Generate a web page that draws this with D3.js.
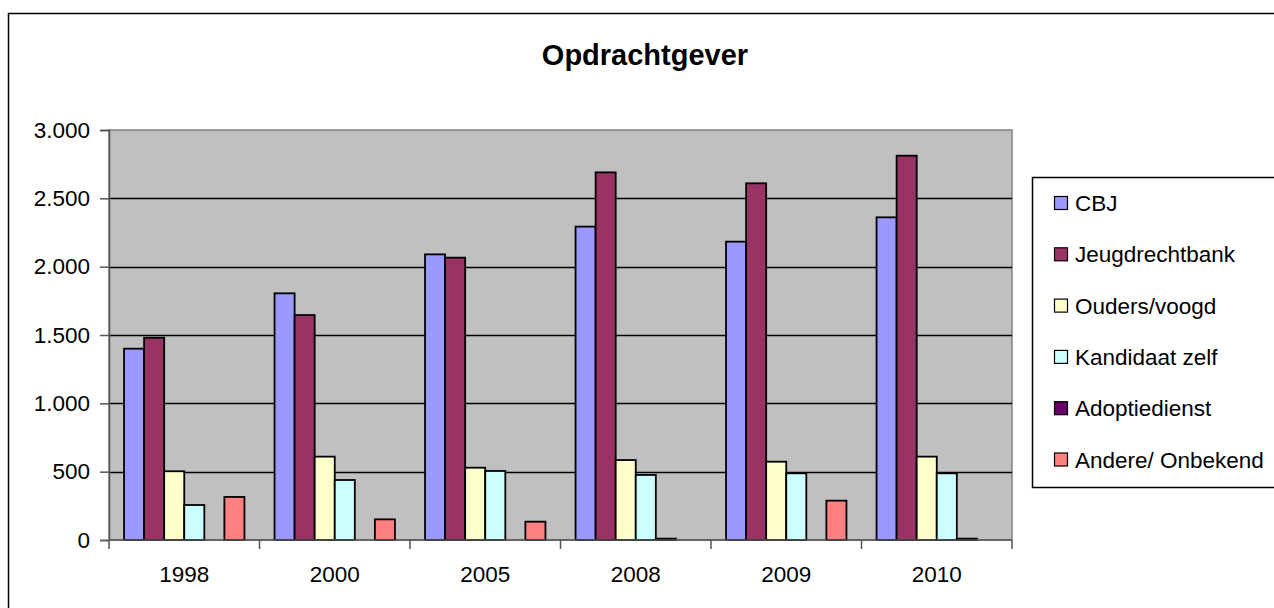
<!DOCTYPE html>
<html>
<head>
<meta charset="utf-8">
<script src="https://cdn.jsdelivr.net/npm/d3@7"></script>
<style>
  body { margin: 0; background: #fff; }
  text { font-family: "Liberation Sans", Arial, sans-serif; fill: #000; }
</style>
</head>
<body>
<div class="graph"></div>
<script>
// chart data
var years = ["1998", "2000", "2005", "2008", "2009", "2010"];
var series = ["CBJ", "Jeugdrechtbank", "Ouders/voogd", "Kandidaat zelf", "Adoptiedienst", "Andere/ Onbekend"];
var colors = ["#9999FF", "#993366", "#FFFFCC", "#CCFFFF", "#660066", "#FF8080"];
var cbj = [1400, 1805, 2090, 2293, 2183, 2361];
var jeugdrechtbank = [1480, 1646, 2066, 2690, 2610, 2812];
var ouders = [503, 610, 529, 585, 573, 610];
var kandidaat = [256, 439, 505, 476, 488, 488];
var adoptie = [0, 0, 0, 10, 0, 10];
var andere = [315, 151, 134, 0, 288, 0];
var yTicks = [0, 500, 1000, 1500, 2000, 2500, 3000];

var values = [cbj, jeugdrechtbank, ouders, kandidaat, adoptie, andere];

var width = 1274, height = 608;
var plot = {left: 109, right: 1012, top: 130, bottom: 540};

var svg = d3.select(".graph").append("svg")
    .attr("width", width)
    .attr("height", height);

// outer chart border
svg.append("rect")
    .attr("x", 8.5).attr("y", 13.5)
    .attr("width", 1290).attr("height", 620)
    .attr("fill", "#fff")
    .attr("stroke", "#000")
    .attr("stroke-width", 1.5);

svg.append("text")
    .attr("x", 645).attr("y", 65)
    .attr("text-anchor", "middle")
    .style("font-size", "29px")
    .style("font-weight", "bold")
    .text("Opdrachtgever");

var x0 = d3.scaleBand().domain(years).range([plot.left, plot.right]);
var bw = x0.bandwidth();
var x1 = d3.scaleBand().domain(series).range([bw * 0.1, bw * 0.9]);
var y = d3.scaleLinear().domain([0, 3000]).range([plot.bottom, plot.top]);

// plot background
svg.append("rect")
    .attr("x", plot.left).attr("y", plot.top)
    .attr("width", plot.right - plot.left).attr("height", plot.bottom - plot.top)
    .attr("fill", "#C0C0C0")
    .attr("stroke", "#808080")
    .attr("stroke-width", 1.5);

// gridlines
svg.append("g").selectAll("line")
    .data(yTicks.slice(1, -1))
    .enter().append("line")
    .attr("x1", plot.left).attr("x2", plot.right)
    .attr("y1", function(d) { return Math.round(y(d)) + 0.5; })
    .attr("y2", function(d) { return Math.round(y(d)) + 0.5; })
    .attr("stroke", "#000")
    .attr("stroke-width", 1.4);

// bars
var groups = svg.append("g").selectAll("g")
    .data(years)
    .enter().append("g")
    .attr("transform", function(d) { return "translate(" + x0(d) + ",0)"; });

groups.selectAll("rect")
    .data(function(yr, i) {
      return series.map(function(s, j) { return {s: s, v: values[j][i], c: colors[j]}; });
    })
    .enter().filter(function(d) { return d.v > 0; }).append("rect")
    .attr("x", function(d) { return x1(d.s); })
    .attr("width", x1.bandwidth())
    .attr("y", function(d) { return y(d.v); })
    .attr("height", function(d) { return y(0) - y(d.v); })
    .attr("fill", function(d) { return d.c; })
    .attr("stroke", "#000")
    .attr("stroke-width", 1.8);

// y axis
var yAxis = svg.append("g")
    .attr("transform", "translate(" + plot.left + ",0)")
    .call(d3.axisLeft(y).tickValues(yTicks).tickSize(9).tickPadding(10)
      .tickFormat(function(d) { return d3.format(",")(d).replace(/,/g, "."); }));
yAxis.selectAll("text").style("font-size", "22.5px");
yAxis.selectAll("line, path").attr("stroke", "#555").attr("stroke-width", 1.5);

// x axis
var xAxis = svg.append("g")
    .attr("transform", "translate(0," + plot.bottom + ")");
xAxis.append("line")
    .attr("x1", plot.left).attr("x2", plot.right)
    .attr("stroke", "#555").attr("stroke-width", 1.5);
xAxis.selectAll(".tk")
    .data(years.concat(["end"]))
    .enter().append("line")
    .attr("x1", function(d, i) { return plot.left + i * bw; })
    .attr("x2", function(d, i) { return plot.left + i * bw; })
    .attr("y1", 0).attr("y2", 9)
    .attr("stroke", "#555").attr("stroke-width", 1.5);
xAxis.selectAll("text")
    .data(years)
    .enter().append("text")
    .attr("x", function(d) { return x0(d) + bw / 2; })
    .attr("y", 42)
    .attr("text-anchor", "middle")
    .style("font-size", "22.5px")
    .text(function(d) { return d; });

// legend
var legend = svg.append("g");
legend.append("rect")
    .attr("x", 1032.5).attr("y", 177.5)
    .attr("width", 300).attr("height", 310)
    .attr("fill", "#fff")
    .attr("stroke", "#000")
    .attr("stroke-width", 1.5);

var items = legend.selectAll(".item")
    .data(series)
    .enter().append("g")
    .attr("transform", function(d, i) { return "translate(1054," + (203 + i * 51.3) + ")"; });
items.append("rect")
    .attr("x", 0.5).attr("y", -6.5)
    .attr("width", 13).attr("height", 13)
    .attr("fill", function(d, i) { return colors[i]; })
    .attr("stroke", "#000")
    .attr("stroke-width", 1.2);
items.append("text")
    .attr("x", 21).attr("y", 8)
    .style("font-size", "22.5px")
    .text(function(d) { return d; });
</script>
</body>
</html>
